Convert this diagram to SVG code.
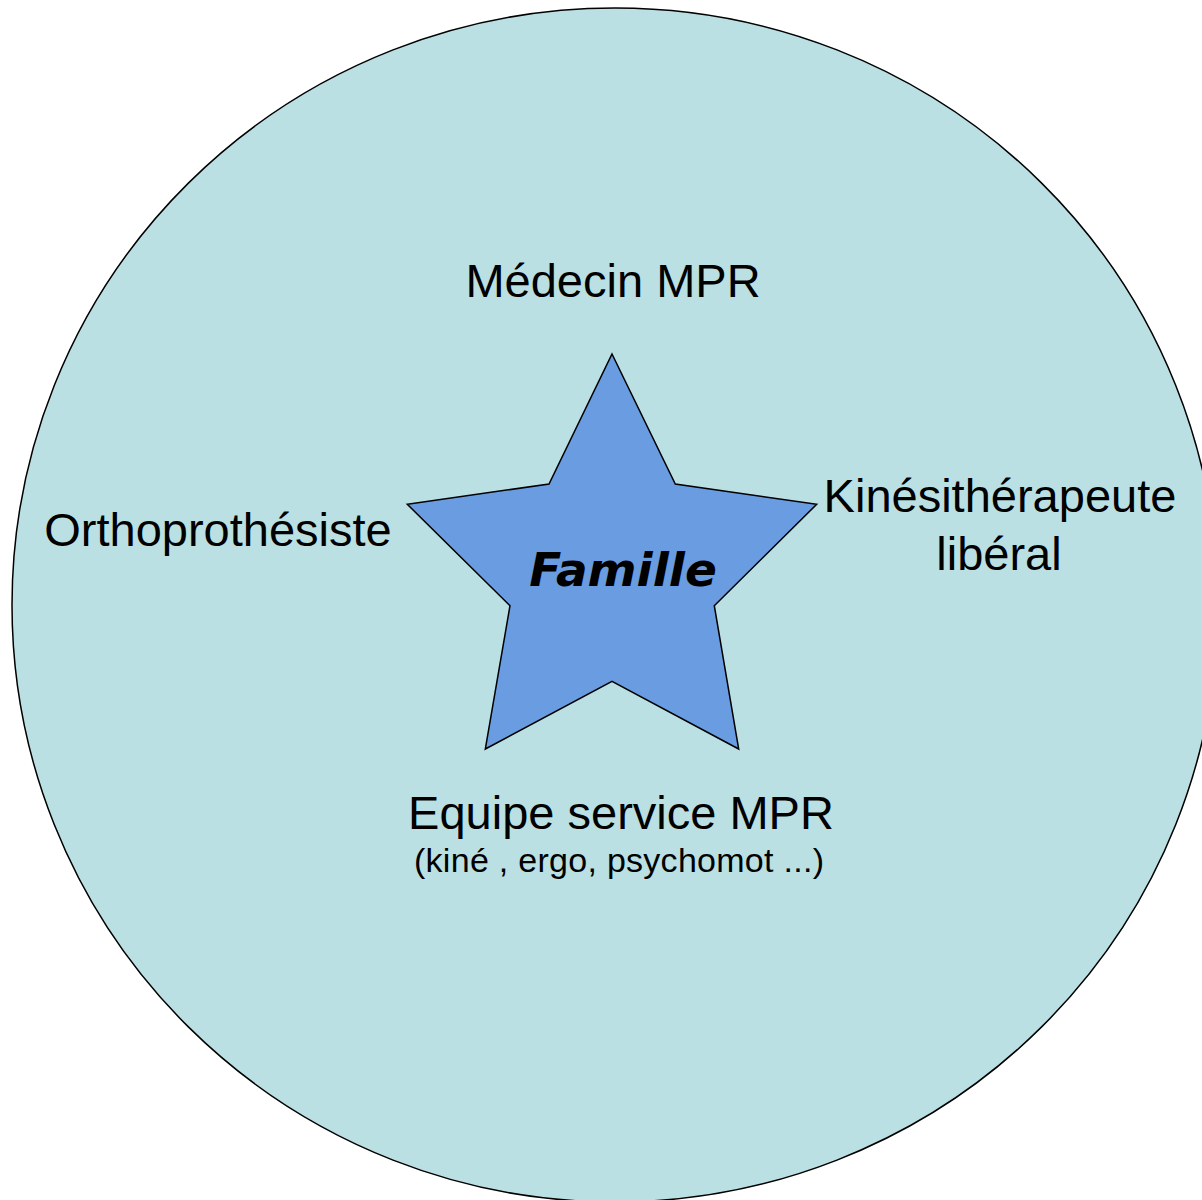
<svg xmlns="http://www.w3.org/2000/svg" width="1202" height="1200" viewBox="0 0 1202 1200">
<style>
.lbl{font-family:"Liberation Sans",Arial,sans-serif;font-size:47px;fill:#000;text-anchor:middle}
.sub{font-family:"Liberation Sans",Arial,sans-serif;font-size:34px;fill:#000;text-anchor:middle}
.star-text{font-family:"DejaVu Sans",sans-serif;font-size:47px;font-weight:bold;font-style:italic;fill:#000;text-anchor:middle}
</style>
<rect width="1202" height="1200" fill="#ffffff"/>
<g id="circle">
<ellipse cx="615" cy="605" rx="603" ry="597" fill="#BAE0E3" stroke="#000" stroke-width="1.5"/>
</g>
<g id="connectors"></g>
<g id="famille">
<polygon points="612,354 675.3,484 816.7,504.3 714.3,605.7 738.7,749 612,681.3 485.3,749 510,605.7 407.3,504.3 549,484" fill="#699CE1" stroke="#000" stroke-width="1.5"/>
<text class="star-text" x="623" y="586">Famille</text>
</g>
<g id="medecin">
<text class="lbl" x="613" y="297">Médecin MPR</text>
</g>
<g id="ortho">
<text class="lbl" x="218" y="546">Orthoprothésiste</text>
</g>
<g id="kine">
<text class="lbl" x="1000" y="512">Kinésithérapeute</text>
<text class="lbl" x="999" y="570">libéral</text>
</g>
<g id="equipe">
<text class="lbl" x="621" y="829">Equipe service MPR</text>
<text class="sub" x="619" y="872" textLength="410" lengthAdjust="spacing">(kiné , ergo, psychomot ...)</text>
</g>
</svg>
